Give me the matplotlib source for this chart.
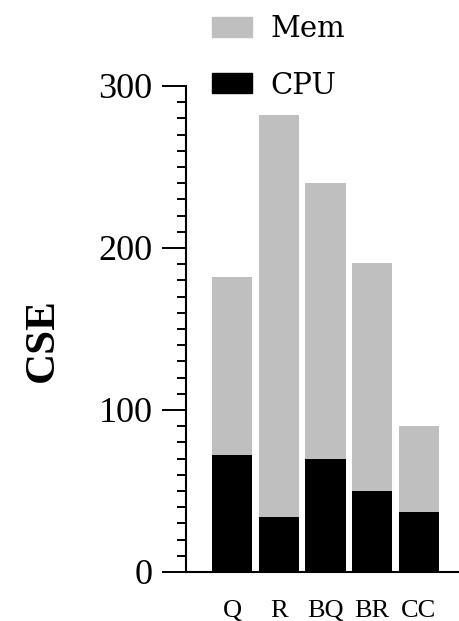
import matplotlib
matplotlib.use("Agg")
import matplotlib.pyplot as plt
import matplotlib.patches as mpatches
import numpy as np
from matplotlib.ticker import MultipleLocator

# data
categories = ["Q", "R", "BQ", "BR", "CC"]
cpu = [72, 34, 70, 50, 37]
total = [182, 282, 240, 191, 90]
mem = [t - c for t, c in zip(total, cpu)]

GRAY = "#bfbfbf"

fig = plt.figure(figsize=(4.6, 6.21), dpi=100)
ax = fig.add_axes([186 / 460, 1 - 572 / 621, 1 - 186 / 460, (572 - 86) / 621])

x = np.arange(len(categories))
ax.bar(x, cpu, width=0.86, color="black", linewidth=0)
ax.bar(x, mem, width=0.86, bottom=cpu, color=GRAY, linewidth=0)

ax.set_xlim(-0.985, 4.88)
ax.set_ylim(0, 300)

for s in ["top", "right"]:
    ax.spines[s].set_visible(False)
for s in ["left", "bottom"]:
    ax.spines[s].set_linewidth(1.5)

ax.yaxis.set_major_locator(MultipleLocator(100))
ax.yaxis.set_minor_locator(MultipleLocator(10))
ax.tick_params(axis="y", which="major", length=17, width=1.4, pad=7)
ax.tick_params(axis="y", which="minor", length=6.5, width=1.4)
ax.tick_params(axis="x", length=0, pad=20)

ax.set_xticks(x)
ax.set_xticklabels(categories, family="Liberation Serif", fontsize=19)
for lab in ax.get_yticklabels():
    lab.set_family("Liberation Serif")
    lab.set_fontsize(26)

fig.text(43 / 460, 1 - 340 / 621, "CSE", rotation=90, ha="center", va="center",
         family="Liberation Serif", fontweight="bold", fontsize=31)

handles = [mpatches.Patch(color=GRAY, label="Mem"),
           mpatches.Patch(color="black", label="CPU")]
leg = fig.legend(handles=handles, loc="upper left",
                 bbox_to_anchor=(212 / 460, 1 - 15 / 621),
                 frameon=False, borderpad=0, borderaxespad=0,
                 prop={"family": "DejaVu Serif", "size": 21},
                 handlelength=1.37, handleheight=0.685,
                 handletextpad=0.62, labelspacing=0.98)

fig.savefig("out.png", dpi=100)
